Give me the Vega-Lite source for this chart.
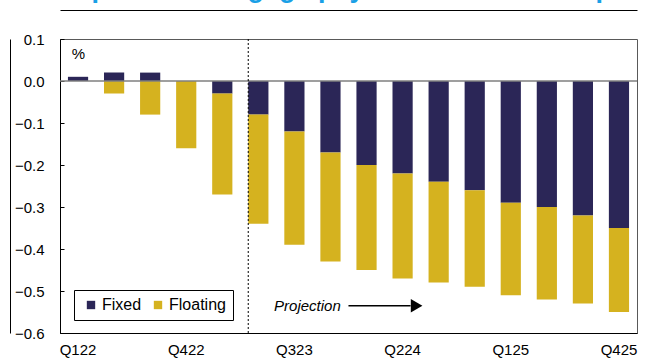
{
  "$schema": "https://vega.github.io/schema/vega-lite/v6.json",
  "width": 577,
  "height": 294,
  "autosize": {"type": "none"},
  "padding": {"left": 60, "top": 39, "right": 27, "bottom": 29},
  "background": "white",
  "title": {
    "text": "Impact of mortgage payments on consumption",
    "anchor": "start",
    "frame": "group",
    "orient": "top",
    "font": "Liberation Sans",
    "fontSize": 27,
    "fontWeight": "bold",
    "color": "#1AA0E6",
    "baseline": "alphabetic",
    "offset": 5,
    "dy": 19
  },
  "config": {
    "font": "Liberation Sans",
    "view": {"stroke": "#595959", "strokeWidth": 1},
    "axis": {"labelFont": "Liberation Sans", "labelFontSize": 15, "labelColor": "black", "domainColor": "black", "grid": false}
  },
  "resolve": {"axis": {"x": "independent", "y": "independent"}},
  "datasets": {
    "bars": [
      {"q": "Q122", "series": "Fixed", "value": 0.01},
      {"q": "Q122", "series": "Floating", "value": 0.0},
      {"q": "Q222", "series": "Fixed", "value": 0.02},
      {"q": "Q222", "series": "Floating", "value": -0.03},
      {"q": "Q322", "series": "Fixed", "value": 0.02},
      {"q": "Q322", "series": "Floating", "value": -0.08},
      {"q": "Q422", "series": "Fixed", "value": 0.0},
      {"q": "Q422", "series": "Floating", "value": -0.16},
      {"q": "Q123", "series": "Fixed", "value": -0.03},
      {"q": "Q123", "series": "Floating", "value": -0.24},
      {"q": "Q223", "series": "Fixed", "value": -0.08},
      {"q": "Q223", "series": "Floating", "value": -0.26},
      {"q": "Q323", "series": "Fixed", "value": -0.12},
      {"q": "Q323", "series": "Floating", "value": -0.27},
      {"q": "Q423", "series": "Fixed", "value": -0.17},
      {"q": "Q423", "series": "Floating", "value": -0.26},
      {"q": "Q124", "series": "Fixed", "value": -0.2},
      {"q": "Q124", "series": "Floating", "value": -0.25},
      {"q": "Q224", "series": "Fixed", "value": -0.22},
      {"q": "Q224", "series": "Floating", "value": -0.25},
      {"q": "Q324", "series": "Fixed", "value": -0.24},
      {"q": "Q324", "series": "Floating", "value": -0.24},
      {"q": "Q424", "series": "Fixed", "value": -0.26},
      {"q": "Q424", "series": "Floating", "value": -0.23},
      {"q": "Q125", "series": "Fixed", "value": -0.29},
      {"q": "Q125", "series": "Floating", "value": -0.22},
      {"q": "Q225", "series": "Fixed", "value": -0.3},
      {"q": "Q225", "series": "Floating", "value": -0.22},
      {"q": "Q325", "series": "Fixed", "value": -0.32},
      {"q": "Q325", "series": "Floating", "value": -0.21},
      {"q": "Q425", "series": "Fixed", "value": -0.35},
      {"q": "Q425", "series": "Floating", "value": -0.2}
    ]
  },
  "layer": [
    {
      "data": {"name": "bars"},
      "mark": {"type": "bar"},
      "encoding": {
        "x": {
          "field": "q", "type": "ordinal",
          "scale": {"domain": ["Q122","Q222","Q322","Q422","Q123","Q223","Q323","Q423","Q124","Q224","Q324","Q424","Q125","Q225","Q325","Q425"], "paddingInner": 0.44, "paddingOuter": 0.22},
          "axis": {"title": null, "orient": "bottom", "values": ["Q122", "Q422", "Q323", "Q224", "Q125", "Q425"], "ticks": false, "labelAngle": 0, "labelPadding": 9}
        },
        "y": {
          "field": "value", "type": "quantitative", "stack": "zero",
          "scale": {"domain": [-0.6, 0.1], "nice": false, "zero": false},
          "axis": {"title": "%", "orient": "left", "titleAngle": 0, "titleX": 18, "titleY": 14, "titleAlign": "center", "titleBaseline": "middle", "titleFontSize": 15, "titleFontWeight": "normal", "titleFont": "Liberation Sans", "values": [0.1, 0.0, -0.1, -0.2, -0.3, -0.4, -0.5, -0.6], "labelOverlap": false, "format": ".1f", "tickSize": -4, "tickColor": "black", "labelPadding": 20}
        },
        "order": {"field": "series", "sort": "ascending"},
        "color": {
          "field": "series", "type": "nominal",
          "scale": {"domain": ["Fixed", "Floating"], "range": ["#2B2657", "#D5B21F"]},
          "legend": {"title": null, "orient": "none", "legendX": 14, "legendY": 251, "direction": "horizontal", "symbolType": "square", "symbolSize": 70, "symbolStrokeWidth": 0, "labelFontSize": 16, "labelFont": "Liberation Sans", "labelColor": "black", "strokeColor": "black", "padding": 7, "columnPadding": 6, "labelOffset": 3, "symbolOffset": 2, "fillColor": "white"}
        }
      }
    },
    {
      "data": {"values": [{"v": 0}]},
      "mark": {"type": "rule", "color": "#7F7F7F", "strokeWidth": 1.5},
      "encoding": {"y": {"field": "v", "type": "quantitative", "axis": {"orient": "left", "offset": 50, "labels": false, "ticks": false, "title": null, "domainColor": "black", "domainWidth": 1}}}
    },
    {
      "data": {"values": [{"q": "Q223"}]},
      "mark": {"type": "rule", "color": "black", "strokeWidth": 1, "strokeDash": [2, 2]},
      "encoding": {"x": {"field": "q", "type": "ordinal", "bandPosition": 0, "axis": {"orient": "top", "offset": 29, "labels": false, "ticks": false, "title": null, "domainColor": "black", "domainWidth": 1}}}
    },
    {
      "data": {"values": [{"q": "Q323", "v": -0.535, "label": "Projection"}]},
      "mark": {"type": "text", "fontStyle": "italic", "fontSize": 15, "font": "Liberation Sans", "align": "center", "baseline": "middle", "dx": 13, "color": "black"},
      "encoding": {"x": {"field": "q", "type": "ordinal", "axis": null}, "y": {"field": "v", "type": "quantitative", "axis": null}, "text": {"field": "label"}}
    },
    {
      "data": {"values": [{"q": "Q423", "q2": "Q224", "v": -0.535}]},
      "mark": {"type": "rule", "color": "black", "strokeWidth": 1.5, "xOffset": 18, "x2Offset": 8},
      "encoding": {"x": {"field": "q", "type": "ordinal", "axis": null}, "x2": {"field": "q2"}, "y": {"field": "v", "type": "quantitative", "axis": null}}
    },
    {
      "data": {"values": [{"q": "Q224", "v": -0.535}]},
      "mark": {"type": "point", "shape": "triangle-right", "filled": true, "color": "black", "opacity": 1, "size": 180, "xOffset": 14},
      "encoding": {"x": {"field": "q", "type": "ordinal", "axis": null}, "y": {"field": "v", "type": "quantitative", "axis": null}}
    }
  ]
}
